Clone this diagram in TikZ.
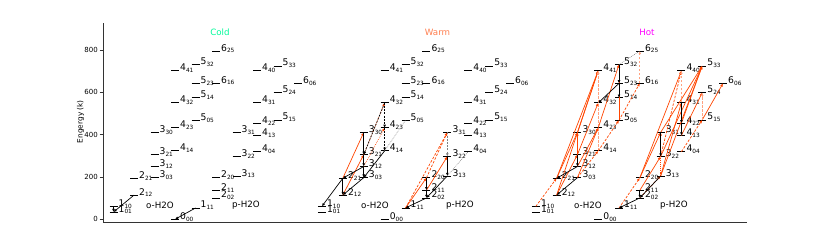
\documentclass[tikz,border=0pt]{standalone}
\usepackage{fontspec}
\setmainfont{DejaVu Sans}
\usetikzlibrary{arrows.meta}
\definecolor{ored}{RGB}{255,69,0}
\definecolor{coldc}{RGB}{0,250,154}
\definecolor{warmc}{RGB}{255,127,80}
\definecolor{hotc}{RGB}{255,0,255}
\newcommand\lv[2]{{\fontsize{9.2}{10}\selectfont #1}\raisebox{-1.8pt}{\fontsize{5.8}{6}\selectfont #2}}
\newcommand\levelset{o101/1/01/34.23/1, o110/1/10/61.04/1, o212/2/12/114.38/2, o221/2/21/194.09/2,
 o303/3/03/196.77/3, o312/3/12/249.44/3, o321/3/21/305.25/3, o330/3/30/410.38/3,
 o414/4/14/323.49/4, o423/4/23/432.15/4, o432/4/32/550.36/4, o441/4/41/702.3/4,
 o505/5/05/468.11/5, o514/5/14/574.72/5, o523/5/23/642.7/5, o532/5/32/732.06/5,
 o616/6/16/643.5/6, o625/6/25/795.5/6,
 p000/0/00/0/4, p111/1/11/53.44/5, p202/2/02/100.85/6, p211/2/11/136.94/6, p220/2/20/195.91/6,
 p313/3/13/204.71/7, p322/3/22/296.82/7, p331/3/31/410.67/7,
 p404/4/04/319.48/8, p413/4/13/396.38/8, p422/4/22/454.34/8, p431/4/31/552.26/8, p440/4/40/702.3/8,
 p515/5/15/469.96/9, p524/5/24/598.83/9, p533/5/33/725.1/9, p606/6/06/642.7/10}
\newcommand\drawpanel[3]{%
 \foreach \nm/\J/\s/\E/\i in \levelset {%
   \pgfmathsetmacro\xx{#2+#3*\i}%
   \coordinate (#1\nm) at (\xx+4,\E);
   \draw[levelline] (\xx,\E) -- ++(8,0);
   \node[lvlabel] (#1\nm-t) at (\xx+9,\E) {\lv{\J}{\s}};
 }}
\tikzset{
  levelline/.style={line width=0.8pt},
  lvlabel/.style={anchor=base west, inner sep=0pt},
  tr/.style={line width=0.7pt, -{Latex[length=3.2pt,width=2.8pt]}},
  blk/.style={tr, draw=black},
  bdash/.style={blk, dash pattern=on 2pt off 1.2pt},
  org/.style={tr, draw=ored},
  odash/.style={org, dash pattern=on 2.5pt off 1.5pt},
  odot/.style={org, dash pattern=on 0.7pt off 1.2pt},
  pale/.style={tr, draw=ored!50, dash pattern=on 2.5pt off 1.5pt},
  gdot/.style={draw=gray, line width=0.5pt, dash pattern=on 0.8pt off 1pt},
  axisline/.style={line width=0.8pt, draw=black!80},
  ticklab/.style={anchor=east, inner sep=0pt, font=\fontsize{7}{8}\selectfont},
  title/.style={font=\fontsize{8.7}{10}\selectfont, inner sep=0pt},
  species/.style={font=\fontsize{8.7}{10}\selectfont, inner sep=0pt},
}
\begin{document}
\begin{tikzpicture}[x=1pt, y=0.2115pt]
\useasboundingbox (0pt,-29.7pt) rectangle (830pt,219.3pt);
% axes
\draw[axisline] (103,927) -- (103,-16) -- (747,-16);
\foreach \v in {0,200,400,600,800} {
  \draw[axisline] (99.5,\v) -- (103,\v);
  \node[ticklab] (tick\v) at (98,\v) {\v};
}
\node[rotate=90, font=\fontsize{7.4}{8}\selectfont, inner sep=0pt] (ylab) at (80.7,461.5) {Engergy (k)};
% titles
\node[title, text=coldc] (tcold) at (220,885) {Cold};
\node[title, text=warmc] (twarm) at (437.5,885) {Warm};
\node[title, text=hotc] (thot) at (647,885) {Hot};
% species labels
\node[species] (co) at (160,67) {o-H2O};
\node[species] (cp) at (246,67) {p-H2O};
\node[species] (wo) at (375,67) {o-H2O};
\node[species] (wp) at (460,67) {p-H2O};
\node[species] (ho) at (588,67) {o-H2O};
\node[species] (hp) at (674,67) {p-H2O};
% levels
\drawpanel{c}{89}{20.5}
\drawpanel{w}{297}{20.9}
\drawpanel{h}{511}{20.8}
% ---- Cold transitions
\draw[blk] (co110) -- (co101);
\draw[blk] (co212) -- (co101);
\draw[blk] (cp111) -- (cp000);
% ---- Warm ortho
\draw[org] (wo212) -- (wo321);
\draw[org] (wo221) -- (wo330);
\draw[odot] (wo321) -- (wo432);
\draw[odot] (wo312) -- (wo423);
\draw[blk] (wo221) -- (wo110);
\draw[blk] (wo221) -- (wo212);
\draw[blk] (wo330) -- (wo321);
\draw[blk] (wo321) -- (wo312);
\draw[blk] (wo312) -- (wo303);
\draw[blk] (wo303) -- (wo212);
\draw[blk] (wo312) -- (wo221);
\draw[blk] (wo414) -- (wo303);
\draw[bdash] (wo432) -- (wo321);
\draw[bdash] (wo432) -- (wo423);
\draw[bdash] (wo423) -- (wo414);
\draw[gdot] (wo414) -- (wo505);
% ---- Warm para
\draw[org] (wp111) -- (wp220);
\draw[odash] (wp111) -- (wp331);
\draw[odash] (wp220) -- (wp331);
\draw[org] (wp211) -- (wp322);
\draw[blk] (wp202) -- (wp111);
\draw[blk] (wp220) -- (wp211);
\draw[blk] (wp211) -- (wp202);
\draw[bdash, draw=gray] (wp331) -- (wp322);
\draw[blk] (wp322) -- (wp313);
\draw[blk] (wp313) -- (wp202);
\draw[gdot] (wp313) -- (wp404);
% ---- Hot ortho
\draw[odash] (ho110) -- (ho221);
\draw[org] (ho221) -- (ho330);
\draw[org] (ho212) -- (ho321);
\draw[org] (ho212) -- (ho441);
\draw[org] (ho221) -- (ho441);
\draw[org] (ho330) -- (ho441);
\draw[pale] (ho414) -- (ho441);
\draw[org] (ho321) -- (ho432);
\draw[org] (ho312) -- (ho423);
\draw[org] (ho303) -- (ho423);
\draw[org] (ho423) -- (ho532);
\draw[org] (ho321) -- (ho330);
\draw[org] (ho505) -- (ho532);
\draw[odash] (ho303) -- (ho414);
\draw[odash] (ho414) -- (ho505);
\draw[odash] (ho505) -- (ho616);
\draw[pale] (ho616) -- (ho625);
\draw[blk] (ho312) -- (ho221);
\draw[blk] (ho303) -- (ho212);
\draw[blk] (ho321) -- (ho312);
\draw[blk] (ho532) -- (ho523);
\draw[blk] (ho523) -- (ho514);
\draw[blk] (ho523) -- (ho432);
\draw[gdot] (ho532) -- (ho625);
% ---- Hot para
\draw[odash] (hp111) -- (hp220);
\draw[org] (hp220) -- (hp331);
\draw[org] (hp211) -- (hp322);
\draw[org] (hp220) -- (hp440);
\draw[odash] (hp322) -- (hp440);
\draw[org] (hp313) -- (hp533);
\draw[org] (hp322) -- (hp533);
\draw[org] (hp331) -- (hp533);
\draw[org] (hp422) -- (hp533);
\draw[org] (hp413) -- (hp524);
\draw[odash] (hp404) -- (hp515);
\draw[org] (hp515) -- (hp606);
\draw[org] (hp313) -- (hp431);
\draw[pale] (hp431) -- (hp440);
\draw[pale] (hp515) -- (hp524);
\draw[odash] (hp202) -- (hp313);
\draw[odot] (hp313) -- (hp331);
\draw[blk] (hp202) -- (hp111);
\draw[blk] (hp313) -- (hp202);
\draw[blk] (hp211) -- (hp202);
\draw[blk] (hp331) -- (hp322);
\draw[blk] (hp422) -- (hp413);
\draw[blk] (hp431) -- (hp422);
\end{tikzpicture}
\end{document}
